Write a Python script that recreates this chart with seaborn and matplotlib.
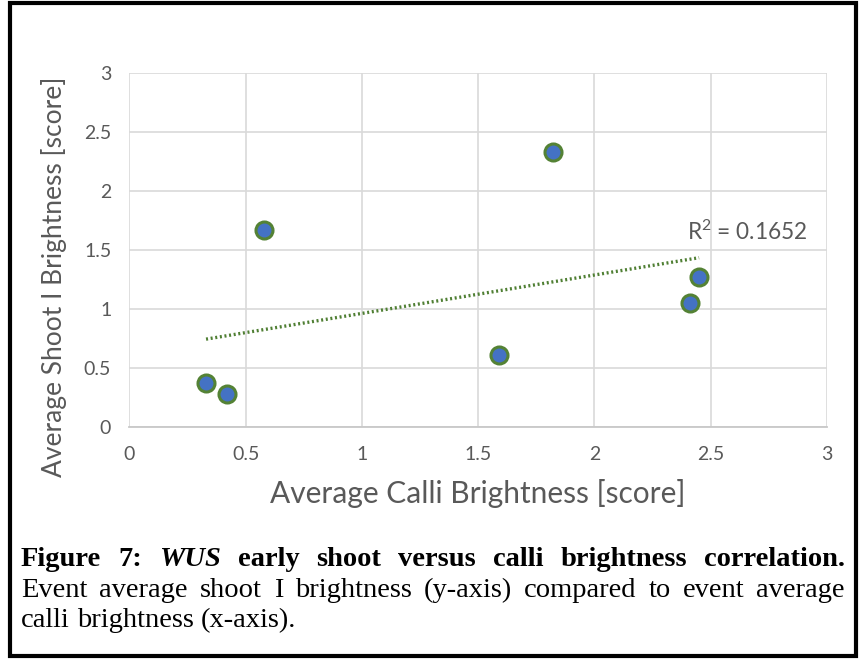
import matplotlib
matplotlib.use("Agg")
import matplotlib.pyplot as plt
import seaborn as sns
import numpy as np
import pandas as pd
from matplotlib.patches import Rectangle

# ---- data ----
calli = [0.33, 0.42, 0.58, 1.59, 1.82, 2.41, 2.45]
shoot = [0.37, 0.28, 1.67, 0.61, 2.33, 1.05, 1.27]
x_ticks = [0, 0.5, 1, 1.5, 2, 2.5, 3]
y_ticks = [0, 0.5, 1, 1.5, 2, 2.5, 3]
x_tick_labels = ["0", "0.5", "1", "1.5", "2", "2.5", "3"]
y_tick_labels = ["0", "0.5", "1", "1.5", "2", "2.5", "3"]
r2_text = r"R$^{2}$ = 0.1652"
x_label = "Average Calli Brightness [score]"
y_label = "Average Shoot I Brightness [score]"
caption_line1 = [("Figure", "normal"), ("7:", "normal"), ("WUS", "italic"), ("early", "normal"),
                 ("shoot", "normal"), ("versus", "normal"), ("calli", "normal"),
                 ("brightness", "normal"), ("correlation.", "normal")]
caption_line2 = "Event average shoot I brightness (y-axis) compared to event average"
caption_line3 = "calli brightness (x-axis)."

df = pd.DataFrame({"calli": calli, "shoot": shoot})

sns.set_theme(style="white")
plt.rcParams['font.family'] = ['Lato', 'DejaVu Sans']
plt.rcParams['mathtext.fontset'] = 'custom'
plt.rcParams['mathtext.rm'] = 'Lato'
plt.rcParams['mathtext.it'] = 'Lato'

W, H = 860, 659
fig = plt.figure(figsize=(W / 100, H / 100), dpi=100)
fig.patch.set_facecolor("white")

def fx(px):
    return px / W

def fy(py):
    return 1 - py / H

ax_l, ax_r, ax_t, ax_b = 129.3, 827.0, 73.3, 426.7
ax = fig.add_axes([fx(ax_l), fy(ax_b), fx(ax_r) - fx(ax_l), fy(ax_t) - fy(ax_b)])

grey = "#595959"
gridc = "#d9d9d9"

sns.regplot(data=df, x="calli", y="shoot", ax=ax, scatter=False, ci=None, truncate=True,
            line_kws=dict(color="#4f7f33", lw=2.4, linestyle=(0, (0.6, 0.8)),
                          dash_capstyle="butt", zorder=2))
sns.scatterplot(data=df, x="calli", y="shoot", ax=ax, s=150, color="#4472C4",
                edgecolor="#548235", linewidth=2.2, zorder=3)

ax.set_xlim(0, 3)
ax.set_ylim(0, 3)
ax.set_xticks(x_ticks)
ax.set_xticklabels(x_tick_labels)
ax.set_yticks(y_ticks)
ax.set_yticklabels(y_tick_labels)
ax.grid(True, color=gridc, lw=1.2)
ax.set_axisbelow(True)
for s in ["top", "right", "left"]:
    ax.spines[s].set_visible(False)
ax.spines["bottom"].set_color("#c8c8c8")
ax.spines["bottom"].set_linewidth(1.3)
ax.tick_params(axis="both", length=0, labelsize=14, colors=grey)
ax.tick_params(axis="x", pad=14)
ax.tick_params(axis="y", pad=13)

ax.set_xlabel(x_label, fontsize=21.5, color=grey)
ax.set_ylabel(y_label, fontsize=19, color=grey)
ax.xaxis.set_label_coords(0.5, -(494 - ax_b) / (ax_b - ax_t), transform=ax.transAxes)
ax.yaxis.set_label_coords(-(ax_l - 54) / (ax_r - ax_l), (ax_b - 277) / (ax_b - ax_t), transform=ax.transAxes)
ax.xaxis.label.set_va("center")
ax.yaxis.label.set_va("center")

ax.text(fx(687), fy(232), r2_text, transform=fig.transFigure, fontsize=16.3, color=grey,
        ha="left", va="center")

# ---- caption (justified) ----
renderer = fig.canvas.get_renderer()
cap_size = 20.5
x0, x1 = 21, 845

def justify(words, base_px, weight, last=False):
    texts = []
    widths = []
    for w, style in words:
        t = fig.text(0, 0, w, fontsize=cap_size, family="Liberation Serif", weight=weight,
                     style=style, color="black", va="baseline", ha="left")
        bb = t.get_window_extent(renderer=renderer)
        texts.append(t)
        widths.append(bb.width)
    if last:
        sp = fig.text(0, 0, "a b", fontsize=cap_size, family="Liberation Serif")
        sp2 = fig.text(0, 0, "ab", fontsize=cap_size, family="Liberation Serif")
        gap = sp.get_window_extent(renderer=renderer).width - sp2.get_window_extent(renderer=renderer).width
        sp.remove(); sp2.remove()
    else:
        gap = (x1 - x0 - sum(widths)) / (len(words) - 1)
    xp = x0
    for t, wd in zip(texts, widths):
        t.set_position((fx(xp), fy(base_px)))
        xp += wd + gap

justify(caption_line1, 566, "bold")
justify([(w, "normal") for w in caption_line2.split()], 597, "normal")
justify([(w, "normal") for w in caption_line3.split()], 627, "normal", last=True)

# ---- outer border ----
bl, bt, br, bb_ = 9.5, 2.5, 856, 656
fig.patches.append(Rectangle((fx(bl), fy(bb_)), fx(br) - fx(bl), fy(bt) - fy(bb_),
                             transform=fig.transFigure, fill=False, edgecolor="black", lw=3.0))

fig.savefig("out.png", dpi=100, facecolor="white")
